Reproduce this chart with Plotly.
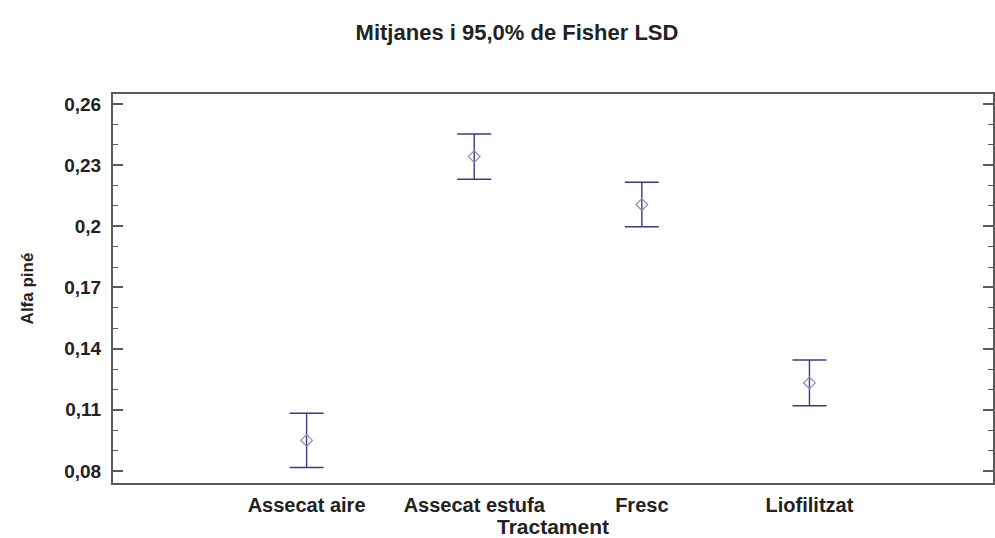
import plotly.graph_objects as go

# Treatment groups and their LSD intervals for alpha-pinene
categories = ["Assecat aire", "Assecat estufa", "Fresc", "Liofilitzat"]
means = [0.0950, 0.2342, 0.2107, 0.1232]
half_widths = [0.0133, 0.0111, 0.0109, 0.0112]
positions = [1, 2, 3, 4]
y_ticks = [0.08, 0.11, 0.14, 0.17, 0.20, 0.23, 0.26]
y_tick_text = ["0,08", "0,11", "0,14", "0,17", "0,2", "0,23", "0,26"]

bar_color = "#3b3b86"
frame_color = "#5a5a5a"
text_color = "#222222"
font_family = "Liberation Sans, Arial, sans-serif"

fig = go.Figure()
fig.add_trace(go.Scatter(
    x=positions,
    y=means,
    mode="markers",
    marker=dict(symbol="diamond-open", size=9, color="#8a8ab0", line=dict(width=1.2)),
    error_y=dict(type="data", array=half_widths, visible=True,
                 color=bar_color, thickness=1.4, width=17),
    showlegend=False,
    hoverinfo="skip",
))

fig.update_layout(
    width=995,
    height=538,
    margin=dict(l=113, r=0, t=94, b=55),
    paper_bgcolor="white",
    plot_bgcolor="white",
    font=dict(family=font_family, color=text_color),
    title=dict(
        text="<b>Mitjanes i 95,0% de Fisher LSD</b>",
        x=517 / 995, xanchor="center", xref="container",
        y=1 - 32 / 538, yanchor="middle", yref="container",
        font=dict(size=22, family=font_family, color=text_color),
    ),
    xaxis=dict(
        range=[-0.155, 5.095],
        tickmode="array",
        tickvals=positions,
        ticktext=[f"<b>{c}</b>" for c in categories],
        ticks="",
        ticklabelstandoff=3,
        tickfont=dict(size=20, color=text_color),
        showline=True, linecolor=frame_color, linewidth=2, mirror=True,
        showgrid=False, zeroline=False,
        title=dict(text="<b>Tractament</b>", font=dict(size=21, color=text_color), standoff=2),
    ),
    yaxis=dict(
        range=[0.0741, 0.2649],
        tickmode="array",
        tickvals=y_ticks,
        ticktext=[f"<b>{t}</b>" for t in y_tick_text],
        ticks="inside", ticklen=10, tickwidth=1.5, tickcolor=frame_color,
        ticklabelstandoff=6,
        minor=dict(dtick=0.01, tick0=0.08, ticks="inside", ticklen=5,
                   tickwidth=1.2, tickcolor=frame_color),
        tickfont=dict(size=19, color=text_color),
        showline=True, linecolor=frame_color, linewidth=2, mirror="ticks",
        showgrid=False, zeroline=False,
        title=dict(text="<b>Alfa piné</b>", font=dict(size=17, color=text_color), standoff=26),
    ),
)

fig.write_html("out.html")
